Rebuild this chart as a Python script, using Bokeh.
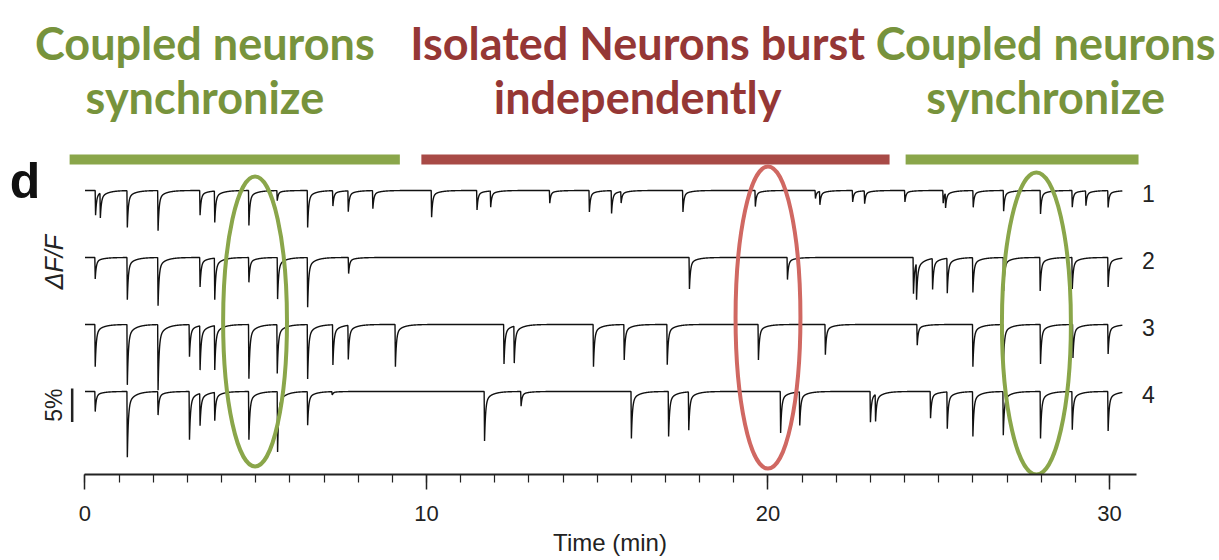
import numpy as np
from bokeh.plotting import figure
from bokeh.models import Label, FixedTicker, Range1d
from bokeh.embed import file_html
from bokeh.resources import INLINE

# ---------------- data ----------------
trace_names = ["1", "2", "3", "4"]
trace_offsets = [0.0, -10.0, -20.0, -30.0]          # % dF/F vertical stacking
trace_end = 30.38                                    # minutes

t1_times = [0.31, 0.45, 1.24, 2.14, 3.37, 3.80, 4.80, 5.63, 6.52, 7.26, 7.71, 8.43,
            10.15, 11.48, 11.88, 13.61, 14.77, 15.42, 15.70, 17.51, 19.63, 21.39,
            21.52, 22.48, 22.83, 24.01, 25.13, 25.20, 26.01, 26.90, 27.98, 28.91,
            29.31, 29.96]
t1_depths = [3.7, 3.7, 5.5, 6.0, 3.7, 4.7, 5.2, 1.5, 5.5, 2.3, 3.1, 2.7,
             4.0, 2.9, 2.4, 1.9, 3.2, 3.4, 1.7, 3.2, 2.4, 1.2,
             2.0, 1.7, 1.9, 1.7, 1.9, 2.2, 2.5, 3.1, 3.5, 2.5,
             2.2, 2.5]

t2_times = [0.30, 1.24, 2.14, 3.37, 3.80, 4.80, 5.64, 6.52, 7.72, 17.70, 20.57,
            24.26, 24.35, 24.82, 25.25, 26.00, 26.90, 27.97, 28.91, 29.96]
t2_depths = [3.2, 6.3, 7.2, 4.4, 6.2, 3.7, 6.2, 7.4, 2.4, 4.7, 3.3,
             5.4, 5.4, 4.6, 5.2, 5.2, 5.0, 5.0, 4.7, 4.4]

t3_times = [0.30, 1.24, 2.14, 3.06, 3.37, 3.80, 4.80, 5.63, 6.52, 7.26, 7.71, 9.09,
            12.27, 12.57, 14.89, 15.79, 17.05, 19.72, 21.68, 24.37, 26.00, 26.89,
            27.98, 28.93, 29.96]
t3_depths = [6.3, 9.0, 9.8, 4.8, 6.6, 6.6, 8.1, 7.3, 8.1, 6.0, 5.1, 6.3,
             5.9, 5.5, 6.3, 5.3, 6.0, 5.3, 4.5, 3.1, 6.3, 6.4,
             5.9, 5.0, 4.4]

t4_times = [0.30, 1.24, 2.14, 3.06, 3.37, 3.80, 4.80, 5.64, 6.52, 7.24, 11.70, 12.77,
            16.00, 17.09, 17.68, 20.37, 20.93, 23.00, 23.15, 24.76, 25.25, 26.00,
            26.89, 27.98, 28.91, 29.96]
t4_depths = [3.0, 9.8, 3.5, 7.2, 4.8, 4.2, 7.2, 9.0, 5.0, 0.5, 7.4, 2.2,
             7.0, 6.7, 5.7, 6.2, 5.0, 4.6, 4.0, 4.0, 5.5, 6.7,
             6.5, 7.0, 5.7, 5.9]

x_ticks = [0, 10, 20, 30]
x_minor_ticks = list(range(0, 31))
x_axis_end = 30.8
x_axis_label = "Time (min)"

period_line1 = ["Coupled neurons", "Isolated Neurons burst", "Coupled neurons"]
period_line2 = ["synchronize", "independently", "synchronize"]
period_start = [-0.45, 9.85, 24.03]
period_end = [9.22, 23.56, 30.85]
period_text_x = [3.51, 16.18, 28.13]
period_text_color = ["#77933C", "#953735", "#77933C"]
period_bar_color = ["#8AA64A", "#A84A46", "#8AA64A"]

ellipse_x = [4.98, 20.0, 27.86]
ellipse_y = [-19.55, -18.96, -19.85]
ellipse_w = [1.87, 1.90, 2.02]
ellipse_h = [43.3, 45.1, 45.1]
ellipse_color = ["#8AA64A", "#D06862", "#8AA64A"]

scale_bar_pct = 5.0

# ---------------- figure ----------------
p = figure(width=1219, height=560, output_backend="svg", toolbar_location=None,
           x_range=Range1d(-2.474, 33.221), y_range=Range1d(-42.39, 28.36),
           y_axis_location=None, x_axis_location="below",
           min_border_left=0, min_border_right=0, min_border_top=0,
           min_border_bottom=86, outline_line_color=None,
           background_fill_color="white", border_fill_color="white")
p.grid.visible = False

ax = p.xaxis[0]
ax.ticker = FixedTicker(ticks=x_ticks, minor_ticks=x_minor_ticks)
ax.bounds = (0, x_axis_end)
ax.axis_line_width = 2
ax.axis_line_color = "#222222"
ax.major_tick_line_width = 1.5
ax.major_tick_line_color = "#222222"
ax.minor_tick_line_width = 1.2
ax.minor_tick_line_color = "#222222"
ax.major_tick_in = 0
ax.major_tick_out = 15
ax.minor_tick_in = 0
ax.minor_tick_out = 8
ax.major_label_standoff = 16
ax.major_label_text_font = "Liberation Sans"
ax.major_label_text_font_size = "22px"
ax.major_label_text_color = "#222222"
ax.axis_label = x_axis_label
ax.axis_label_standoff = 5
ax.axis_label_text_font = "Liberation Sans"
ax.axis_label_text_font_style = "normal"
ax.axis_label_text_font_size = "24px"
ax.axis_label_text_color = "#222222"


def build_trace(times, depths, offset):
    grid = np.arange(0.0, trace_end, 0.004)
    ts_arr = np.array(times)
    tt = np.union1d(grid, np.concatenate([ts_arr, ts_arr - 0.012]))
    y = np.zeros_like(tt)
    for ts, d in zip(times, depths):
        dt = tt - ts
        dpos = np.clip(dt, 0, None)
        k = np.where(dt >= 0,
                     0.8 * np.exp(-dpos / 0.03) + 0.2 * np.exp(-dpos / 0.2),
                     np.where(dt > -0.012, (dt + 0.012) / 0.012, 0.0))
        y -= d * k
    return tt, y + offset


all_times = [t1_times, t2_times, t3_times, t4_times]
all_depths = [t1_depths, t2_depths, t3_depths, t4_depths]
for times, depths, off, name in zip(all_times, all_depths, trace_offsets, trace_names):
    xs, ys = build_trace(times, depths, off)
    p.line(xs, ys, line_color="#111111", line_width=1.4)
    p.add_layout(Label(x=31.14, y=off - 0.4, text=name, text_align="center",
                       text_baseline="middle", text_font="Liberation Sans",
                       text_font_size="23px", text_color="#222222"))

# period bars
p.segment(x0=period_start, y0=[4.63] * 3, x1=period_end, y1=[4.63] * 3,
          line_color=period_bar_color, line_width=10, line_cap="butt")

# period headings
for i in range(3):
    p.add_layout(Label(x=period_text_x[i], y=21.99, text=period_line1[i],
                       text_align="center", text_baseline="alphabetic",
                       text_font="Lato", text_font_style="bold",
                       text_font_size="45px", text_color=period_text_color[i]))
    p.add_layout(Label(x=period_text_x[i], y=13.93, text=period_line2[i],
                       text_align="center", text_baseline="alphabetic",
                       text_font="Lato", text_font_style="bold",
                       text_font_size="45px", text_color=period_text_color[i]))

# ellipses
p.ellipse(x=ellipse_x, y=ellipse_y, width=ellipse_w, height=ellipse_h,
          fill_color=None, line_color=ellipse_color, line_width=4)

# scale bar
p.segment(x0=[-0.375], y0=[-29.55], x1=[-0.375], y1=[-29.55 - scale_bar_pct],
          line_color="#222222", line_width=2.5)
p.add_layout(Label(x=-0.893, y=-32.05, text="5%", angle=np.pi / 2,
                   text_align="center", text_baseline="middle",
                   text_font="Liberation Sans", text_font_size="23px",
                   text_color="#222222"))
p.add_layout(Label(x=-0.914, y=-10.7, text="\u0394F/F", angle=np.pi / 2,
                   text_align="center", text_baseline="middle",
                   text_font="Liberation Sans", text_font_style="italic",
                   text_font_size="25px", text_color="#222222"))
p.add_layout(Label(x=-1.757, y=1.49, text="d", text_align="center",
                   text_baseline="alphabetic", text_font="Liberation Sans",
                   text_font_style="bold", text_font_size="50px",
                   text_color="#111111"))

open("out.html", "w").write(file_html(p, INLINE))
